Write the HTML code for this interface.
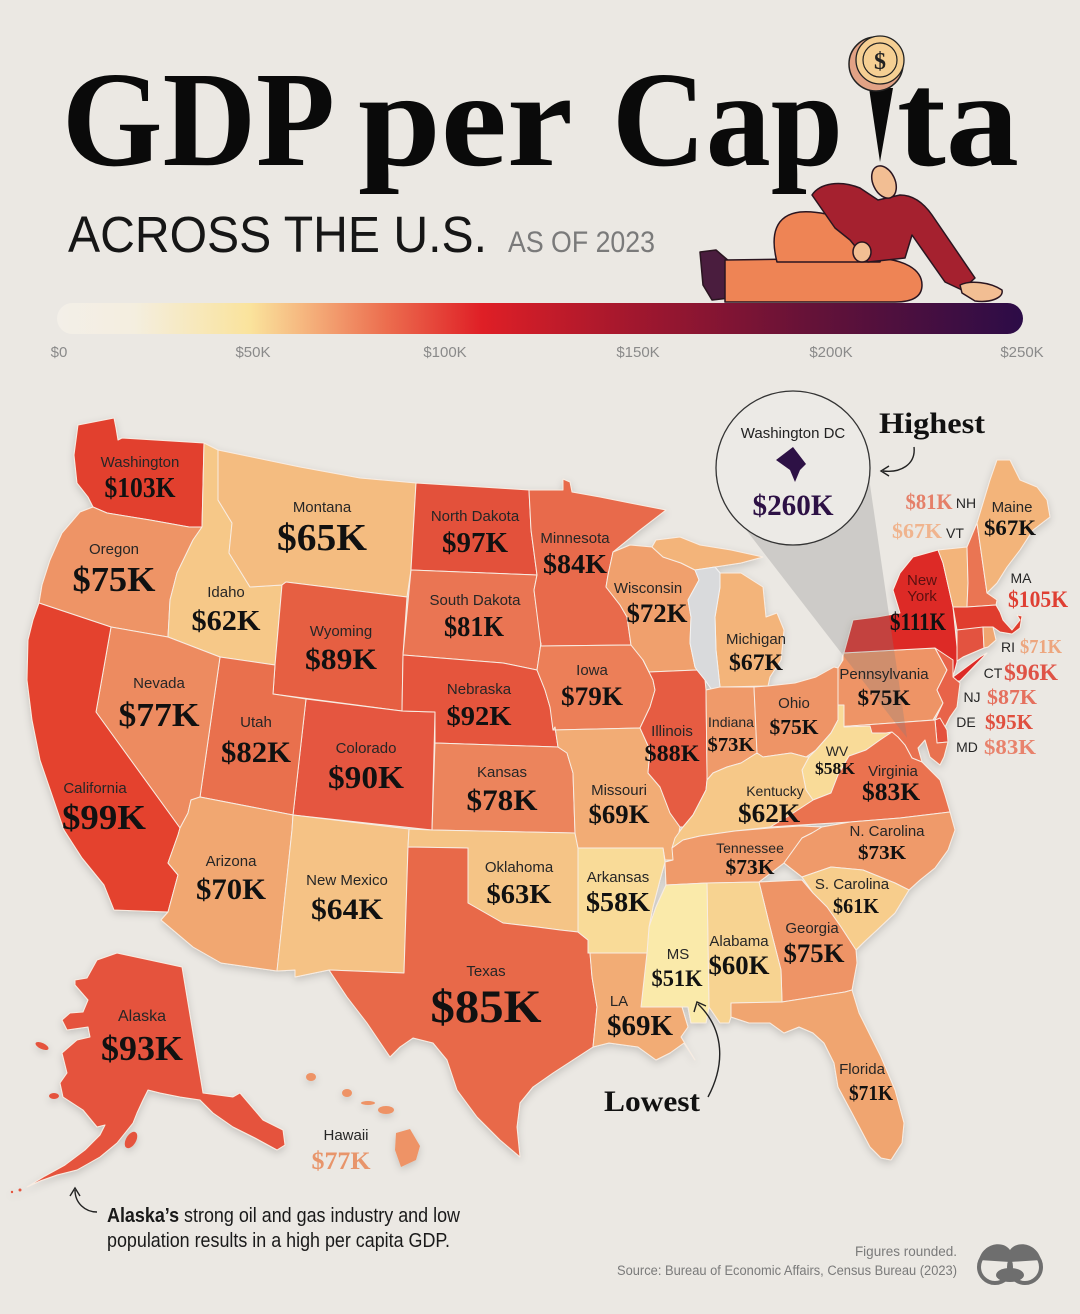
<!DOCTYPE html>
<html><head><meta charset="utf-8">
<style>html,body{margin:0;padding:0;background:#EBE8E3;}svg{display:block}</style>
</head><body>
<svg width="1080" height="1314" viewBox="0 0 1080 1314" xmlns="http://www.w3.org/2000/svg">
<defs>
<linearGradient id="gbar" x1="57" y1="0" x2="1023" y2="0" gradientUnits="userSpaceOnUse">
<stop offset="0" stop-color="#F3EFE8"/>
<stop offset="0.08" stop-color="#F4EEDF"/>
<stop offset="0.2" stop-color="#FAE39C"/>
<stop offset="0.26" stop-color="#F5B27C"/>
<stop offset="0.34" stop-color="#EC6E4F"/>
<stop offset="0.44" stop-color="#DF1F26"/>
<stop offset="0.6" stop-color="#A0172E"/>
<stop offset="0.78" stop-color="#651238"/>
<stop offset="1" stop-color="#2C0C47"/>
</linearGradient>
<filter id="sh" x="-5%" y="-5%" width="110%" height="110%">
<feDropShadow dx="0" dy="3" stdDeviation="4" flood-color="#000" flood-opacity="0.16"/>
</filter>
</defs>
<rect width="1080" height="1314" fill="#EBE8E3"/>

<!-- Title -->
<g font-family="'Liberation Serif', serif" font-weight="bold" font-size="136" fill="#0a0a0a">
<text x="62" y="165" textLength="273" lengthAdjust="spacingAndGlyphs">GDP</text>
<text x="358" y="165" textLength="215" lengthAdjust="spacingAndGlyphs">per</text>
<text x="612" y="165" textLength="231" lengthAdjust="spacingAndGlyphs">Cap</text>
<text x="897" y="165" textLength="122" lengthAdjust="spacingAndGlyphs">ta</text>
</g>
<polygon points="869,88 893,88 880,162" fill="#0a0a0a"/>
<!-- coin -->
<circle cx="876" cy="64" r="27" fill="#E2A285" stroke="#222" stroke-width="1.5"/>
<circle cx="880" cy="60" r="24" fill="#F5CF93" stroke="#222" stroke-width="1.3"/>
<circle cx="880" cy="60" r="17" fill="none" stroke="#222" stroke-width="1.2"/>
<text x="880" y="69" text-anchor="middle" font-family="'Liberation Serif', serif" font-weight="bold" font-size="24" fill="#222">$</text>

<text x="68" y="252" font-family="'Liberation Sans', Arial, sans-serif" font-size="51" textLength="419" lengthAdjust="spacingAndGlyphs" fill="#161616">ACROSS THE U.S.</text>
<text x="508" y="252" font-family="'Liberation Sans', Arial, sans-serif" font-size="30" textLength="147" lengthAdjust="spacingAndGlyphs" fill="#7a7a7a">AS OF 2023</text>

<!-- gradient bar -->
<rect x="57" y="303" width="966" height="31" rx="15.5" fill="url(#gbar)"/>

<!-- person -->
<g stroke="#2a1520" stroke-width="1.5" stroke-linejoin="round">
<path d="M700,252 L716,250 L730,262 L730,298 L712,300 L703,285 Z" fill="#4A1D3E"/>
<path d="M725,260 L870,258 C905,258 922,270 922,285 C922,298 910,302 895,302 L725,302 Z" fill="#EE8455"/>
<path d="M777,262 C770,235 775,215 800,212 C830,210 865,225 885,250 L880,262 Z" fill="#EE8455"/>
<path d="M812,195 C820,183 840,180 860,188 L878,200 L900,195 C915,195 925,205 932,215 L975,278 L962,290 L945,282 L912,235 L905,258 L868,262 L850,240 L835,228 Z" fill="#A5212F"/>
<ellipse cx="862" cy="252" rx="9" ry="10" fill="#F2BE93"/>
<ellipse cx="884" cy="182" rx="11" ry="17" transform="rotate(-25 884 182)" fill="#F2BE93"/>
<path d="M960,285 C970,280 990,282 1002,290 C1004,298 990,303 975,301 L962,293 Z" fill="#F2BE93"/>
</g>

<!-- tick labels -->
<g font-family="'Liberation Sans', Arial, sans-serif" font-size="15" fill="#8a8a8a" text-anchor="middle">
<text x="59" y="357">$0</text>
<text x="253" y="357">$50K</text>
<text x="445" y="357">$100K</text>
<text x="638" y="357">$150K</text>
<text x="831" y="357">$200K</text>
<text x="1022" y="357">$250K</text>
</g>

<!-- MAP -->
<g filter="url(#sh)" stroke="#F8ECE2" stroke-width="1" stroke-linejoin="round">
<polygon fill="#E2412F" points="78,425 114,418 116,428 118,440 122,438 204,443 202,527 189,527 150,520 107,513 93,507 88,497 77,483 74,455"/>
<polygon fill="#EE9466" points="93,507 107,513 150,520 189,527 202,527 193,540 177,573 170,600 168,637 111,627 39,603 42,585 50,560 62,533 80,512"/>
<polygon fill="#F6C888" points="204,443 218,450 218,500 232,523 229,553 250,587 282,585 275,665 220,657 168,637 170,600 177,573 193,540 202,527"/>
<polygon fill="#F4BC80" points="218,450 300,467 360,478 416,483 411,570 407,597 286,582 282,585 250,587 229,553 232,523 218,500"/>
<polygon fill="#E65E43" points="286,582 407,597 403,655 402,711 273,694 275,665 282,585"/>
<polygon fill="#E5573F" points="306,699 402,711 435,712 432,830 293,815"/>
<polygon fill="#E96F4E" points="220,657 275,665 273,694 306,699 293,815 200,797"/>
<polygon fill="#ED8B60" points="111,627 168,637 220,657 200,797 191,800 188,813 180,828 96,712"/>
<polygon fill="#E4432F" points="39,603 111,627 96,712 180,828 178,835 168,863 178,875 168,912 114,910 104,885 82,858 64,830 52,795 40,760 32,720 27,680 28,640 33,620"/>
<polygon fill="#F1A771" points="200,797 293,815 292,830 277,971 221,963 193,947 161,920 168,912 178,875 168,863 178,835 180,828 188,813 191,800"/>
<polygon fill="#F5C285" points="293,815 409,829 408,847 404,973 329,970 295,977 295,970 277,971 292,830"/>
<polygon fill="#E3513B" points="416,483 529,490 531,530 537,575 411,570"/>
<polygon fill="#EA7553" points="411,570 537,575 534,590 541,643 537,670 513,665 503,663 403,655"/>
<polygon fill="#E5553E" points="403,655 503,663 513,665 537,670 545,690 550,707 555,727 558,747 435,743 435,712 402,711"/>
<polygon fill="#EC845C" points="435,743 558,747 567,753 570,763 573,773 575,833 432,830"/>
<polygon fill="#F5C486" points="409,829 432,830 575,833 578,848 578,932 560,930 537,927 503,923 468,903 468,848 408,847"/>
<polygon fill="#E8694A" points="408,847 468,848 468,903 503,923 537,927 560,930 578,932 588,940 590,953 592,977 597,1007 593,1047 573,1060 553,1073 533,1087 520,1103 517,1127 520,1157 500,1140 477,1117 457,1090 447,1060 433,1043 413,1038 400,1047 390,1057 367,1023 347,997 329,970 404,973"/>
<polygon fill="#E86B4C" points="529,490 563,490 563,479 570,482 572,492 600,497 630,503 666,510 640,530 613,552 608,575 606,587 620,605 627,617 631,645 541,646 534,590 537,575 531,530"/>
<polygon fill="#EC7F59" points="541,646 631,645 643,660 653,680 655,690 650,707 640,728 553,730 550,707 545,690 537,670 541,643"/>
<polygon fill="#F2AC74" points="553,730 640,728 650,750 648,773 660,787 670,813 680,827 677,843 673,860 665,860 663,848 578,848 575,833 573,773 570,763 567,753 558,747 555,727"/>
<polygon fill="#F0A06D" points="613,552 630,545 652,547 663,557 681,563 695,570 699,580 688,600 691,617 690,643 695,667 697,670 649,672 643,660 631,645 627,617 620,605 606,587 608,575"/>
<polygon fill="#E65B42" points="649,672 697,670 705,680 706,690 707,773 707,780 706,790 693,815 683,827 680,827 670,813 660,787 648,773 650,750 640,728 650,707 655,690 653,680 643,660"/>
<polygon fill="#F3B47A" points="656,540 680,537 700,545 731,550 763,557 741,563 715,567 695,570 681,563 663,557 652,547"/>
<polygon fill="#F3B47A" points="720,573 741,573 752,580 763,587 766,617 777,613 784,630 781,660 770,677 768,686 720,687 716,650 715,617 720,587"/>
<polygon fill="#D9DADC" stroke="#F2F2F2" points="695,570 715,567 720,573 720,587 715,617 716,650 720,687 712,690 705,680 697,670 695,667 690,643 691,617 688,600 699,580"/>
<polygon fill="#EF9A6A" points="706,690 720,687 754,687 757,753 741,763 727,767 713,773 707,780 707,773"/>
<polygon fill="#EE9466" points="754,687 768,686 795,683 816,677 834,667 838,668 838,720 831,733 816,750 806,757 791,753 763,757 757,753"/>
<polygon fill="#EE9466" points="838,668 843,660 843,653 935,648 947,670 937,690 943,703 933,720 836,727 838,720"/>
<polygon fill="#DD2A25" points="842,660 853,620 877,617 900,613 893,590 900,573 913,557 938,550 943,563 953,607 957,647 957,662 953,677 980,657 987,653 960,681 953,681 935,648 843,653"/>
<polygon fill="#F3B47A" points="938,550 967,547 968,583 967,607 953,607 943,563"/>
<polygon fill="#EA7553" points="967,547 977,523 987,593 997,600 996,605 967,607 968,583"/>
<polygon fill="#F3B47A" points="977,523 990,480 997,460 1010,460 1020,480 1037,487 1047,500 1050,517 1033,530 1020,550 1007,567 997,583 987,593"/>
<polygon fill="#E03C2E" points="953,607 967,607 996,605 1000,612 1003,620 1012,630 1020,620 1017,615 1022,616 1020,628 1012,634 1000,632 993,627 957,630"/>
<polygon fill="#E35340" points="957,630 983,627 984,648 963,657 957,661"/>
<polygon fill="#F0A56F" points="983,627 993,627 996,640 988,647 984,648"/>
<polygon fill="#E86349" points="935,648 953,660 953,677 960,683 957,707 950,717 945,727 935,720 943,703 937,690 947,670"/>
<polygon fill="#E4513C" points="935,720 940,718 947,730 948,742 937,743"/>
<polygon fill="#E9714F" points="836,727 935,720 937,743 948,742 944,757 940,765 930,757 925,740 918,748 922,762 912,758 905,745 895,737 886,733 872,733 862,738 850,734 838,735"/>
<polygon fill="#F9DB98" points="838,705 844,705 844,727 870,726 872,733 886,733 892,732 880,740 866,750 849,756 838,775 831,793 813,800 806,790 802,770 809,757 816,750 831,733 838,720"/>
<polygon fill="#EA7250" points="892,732 898,737 905,745 912,758 922,762 930,770 940,780 945,795 950,812 900,818 850,822 800,825 770,827 790,815 813,800 831,793 838,775 849,756 866,750 880,740"/>
<polygon fill="#F6C888" points="683,827 693,815 706,790 707,780 713,773 727,767 741,763 757,753 763,757 791,753 806,757 809,757 802,770 806,790 813,800 790,815 770,827 735,831 700,836 683,840 672,848 675,838"/>
<polygon fill="#EF9A6A" points="672,848 683,840 700,836 735,831 770,828 800,826 822,827 812,833 802,838 784,863 759,882 707,883 666,885 665,862 673,860"/>
<polygon fill="#EF9A6A" points="822,827 850,822 900,818 950,812 955,830 948,850 935,868 920,880 909,890 895,883 863,870 831,867 802,877 784,863 802,838 812,833"/>
<polygon fill="#F7CD8C" points="802,877 831,867 863,870 895,883 909,890 895,913 877,930 863,943 856,950 841,927 827,907 813,893"/>
<polygon fill="#EE9466" points="759,882 802,880 813,893 827,907 841,927 856,950 857,963 852,990 845,992 782,1002 781,970 770,927"/>
<polygon fill="#F7D391" points="707,883 759,882 770,927 781,970 782,1002 731,1003 731,1017 729,1023 720,1023 709,1007"/>
<polygon fill="#F0A56F" points="731,1003 782,1002 845,992 852,990 859,1013 870,1035 881,1057 895,1090 904,1123 902,1143 891,1160 881,1158 870,1147 852,1113 838,1087 834,1063 824,1043 813,1033 799,1027 784,1033 770,1023 749,1023 731,1017"/>
<polygon fill="#FAEAAA" points="666,885 707,883 709,1007 706,1023 691,1023 688,1007 682,1007 641,1007 647,953 649,927 656,907"/>
<polygon fill="#F9DB98" points="578,848 663,848 665,862 660,880 653,907 649,927 647,953 588,953 588,940 578,932"/>
<polygon fill="#F2AC74" points="588,953 647,953 641,1007 682,1007 688,1027 681,1037 695,1060 684,1043 670,1053 656,1060 638,1047 609,1043 593,1047 597,1007 592,977 590,953"/>
<polygon fill="#E5533D" points="117,953 182,967 203,1093 233,1097 240,1093 263,1120 283,1130 285,1145 277,1150 255,1138 233,1127 213,1113 200,1100 180,1097 160,1093 148,1090 143,1100 137,1113 133,1123 117,1143 100,1157 77,1170 57,1175 40,1181 27,1187 45,1176 65,1165 85,1150 100,1135 105,1125 97,1127 83,1110 63,1097 60,1083 67,1073 62,1053 77,1040 90,1037 88,1027 67,1030 62,1020 70,1013 83,1012 88,1000 75,985 75,980 87,978 97,960"/>
<g fill="#E5533D" stroke="none">
<ellipse cx="42" cy="1046" rx="7" ry="3" transform="rotate(25 42 1046)"/>
<ellipse cx="54" cy="1096" rx="5" ry="3"/>
<ellipse cx="131" cy="1140" rx="5" ry="9" transform="rotate(30 131 1140)"/>
<circle cx="20" cy="1190" r="1.5"/><circle cx="12" cy="1192" r="1.2"/>
</g>
<g fill="#EE9366" stroke="none">
<ellipse cx="311" cy="1077" rx="5" ry="4"/>
<ellipse cx="347" cy="1093" rx="5" ry="4"/>
<ellipse cx="368" cy="1103" rx="7" ry="2"/>
<ellipse cx="386" cy="1110" rx="8" ry="4"/>
<polygon points="396,1133 410,1129 420,1146 416,1160 401,1167 395,1150"/>
</g>
</g>

<!-- DC wedge and circle -->
<polygon points="740,522 907,738 869,478" fill="#808080" opacity="0.28"/>
<circle cx="793" cy="468" r="77" fill="#ECEAE6" stroke="#333" stroke-width="1.3"/>
<text x="793" y="438" text-anchor="middle" font-family="'Liberation Sans', Arial, sans-serif" font-size="15" fill="#222">Washington DC</text>
<polygon points="793,447 806,464 800,470 795,482 790,470 776,460" fill="#2D1145"/>
<text x="752.5" y="515" textLength="81" lengthAdjust="spacingAndGlyphs" font-family="'Liberation Serif', serif" font-weight="bold" font-size="30" fill="#2D1145">$260K</text>

<!-- Highest / Lowest -->
<text x="879" y="433" textLength="106" lengthAdjust="spacingAndGlyphs" font-family="'Liberation Serif', serif" font-weight="bold" font-size="30" fill="#111">Highest</text>
<path d="M914,447 C916,465 900,473 883,471" fill="none" stroke="#222" stroke-width="1.4"/>
<path d="M889,466 L881,471 L889,476" fill="none" stroke="#222" stroke-width="1.4"/>
<text x="604" y="1111" textLength="96" lengthAdjust="spacingAndGlyphs" font-family="'Liberation Serif', serif" font-weight="bold" font-size="30" fill="#111">Lowest</text>
<path d="M708,1097 C725,1065 725,1030 698,1004" fill="none" stroke="#222" stroke-width="1.4"/>
<path d="M694,1012 L697,1002 L706,1006" fill="none" stroke="#222" stroke-width="1.4"/>
<path d="M97,1212 C85,1212 75,1203 75,1190" fill="none" stroke="#222" stroke-width="1.4"/>
<path d="M70,1196 L75,1188 L80,1196" fill="none" stroke="#222" stroke-width="1.4"/>

<!-- state names -->
<g font-family="'Liberation Sans', Arial, sans-serif" font-size="15" fill="#262626" text-anchor="middle">
<text x="140" y="467">Washington</text>
<text x="322" y="512">Montana</text>
<text x="475" y="521">North Dakota</text>
<text x="575" y="543">Minnesota</text>
<text x="114" y="554">Oregon</text>
<text x="226" y="597">Idaho</text>
<text x="475" y="605">South Dakota</text>
<text x="648" y="593">Wisconsin</text>
<text x="341" y="636">Wyoming</text>
<text x="479" y="694">Nebraska</text>
<text x="592" y="675">Iowa</text>
<text x="159" y="688">Nevada</text>
<text x="256" y="727">Utah</text>
<text x="366" y="753">Colorado</text>
<text x="672" y="736">Illinois</text>
<text x="731" y="727" font-size="14">Indiana</text>
<text x="794" y="708">Ohio</text>
<text x="756" y="644">Michigan</text>
<text x="884" y="679">Pennsylvania</text>
<text x="922" y="585" fill="#5c1010">New</text>
<text x="922" y="601" fill="#5c1010">York</text>
<text x="95" y="793">California</text>
<text x="502" y="777">Kansas</text>
<text x="619" y="795">Missouri</text>
<text x="775" y="796" font-size="14">Kentucky</text>
<text x="837" y="756" font-size="14">WV</text>
<text x="893" y="776">Virginia</text>
<text x="887" y="836">N. Carolina</text>
<text x="750" y="853" font-size="14">Tennessee</text>
<text x="231" y="866">Arizona</text>
<text x="347" y="885">New Mexico</text>
<text x="519" y="872">Oklahoma</text>
<text x="618" y="882">Arkansas</text>
<text x="852" y="889">S. Carolina</text>
<text x="812" y="933">Georgia</text>
<text x="739" y="946">Alabama</text>
<text x="678" y="959">MS</text>
<text x="486" y="976">Texas</text>
<text x="619" y="1006">LA</text>
<text x="142" y="1021" font-size="16">Alaska</text>
<text x="346" y="1140">Hawaii</text>
<text x="862" y="1074">Florida</text>
<text x="1012" y="512">Maine</text>
<text x="966" y="508" font-size="14">NH</text>
<text x="955" y="538" font-size="14">VT</text>
<text x="1021" y="583" font-size="14">MA</text>
<text x="1008" y="652" font-size="14">RI</text>
<text x="993" y="678" font-size="14">CT</text>
<text x="972" y="702" font-size="14">NJ</text>
<text x="966" y="727" font-size="14">DE</text>
<text x="967" y="752" font-size="14">MD</text>
</g>

<!-- values -->
<g font-family="'Liberation Serif', serif" font-weight="bold" fill="#111">
<text x="104.5" y="497" font-size="28" textLength="71" lengthAdjust="spacingAndGlyphs">$103K</text>
<text x="277" y="550" font-size="38" textLength="90" lengthAdjust="spacingAndGlyphs">$65K</text>
<text x="442" y="552" font-size="28" textLength="66" lengthAdjust="spacingAndGlyphs">$97K</text>
<text x="543" y="573" font-size="27" textLength="64" lengthAdjust="spacingAndGlyphs">$84K</text>
<text x="72.5" y="591" font-size="35" textLength="83" lengthAdjust="spacingAndGlyphs">$75K</text>
<text x="191.5" y="630" font-size="29" textLength="69" lengthAdjust="spacingAndGlyphs">$62K</text>
<text x="444" y="636" font-size="28" textLength="60" lengthAdjust="spacingAndGlyphs">$81K</text>
<text x="626.5" y="622" font-size="26" textLength="61" lengthAdjust="spacingAndGlyphs">$72K</text>
<text x="305" y="669" font-size="30" textLength="72" lengthAdjust="spacingAndGlyphs">$89K</text>
<text x="446.5" y="725" font-size="27" textLength="65" lengthAdjust="spacingAndGlyphs">$92K</text>
<text x="561" y="705" font-size="26" textLength="62" lengthAdjust="spacingAndGlyphs">$79K</text>
<text x="118.5" y="726" font-size="34" textLength="81" lengthAdjust="spacingAndGlyphs">$77K</text>
<text x="221" y="762" font-size="30" textLength="70" lengthAdjust="spacingAndGlyphs">$82K</text>
<text x="328" y="788" font-size="32" textLength="76" lengthAdjust="spacingAndGlyphs">$90K</text>
<text x="644.5" y="761" font-size="23" textLength="55" lengthAdjust="spacingAndGlyphs">$88K</text>
<text x="707.5" y="751" font-size="20" textLength="47" lengthAdjust="spacingAndGlyphs">$73K</text>
<text x="769.5" y="734" font-size="21" textLength="49" lengthAdjust="spacingAndGlyphs">$75K</text>
<text x="729" y="670" font-size="23" textLength="54" lengthAdjust="spacingAndGlyphs">$67K</text>
<text x="857.5" y="705" font-size="22" textLength="53" lengthAdjust="spacingAndGlyphs">$75K</text>
<text x="890" y="630" font-size="25" textLength="56" lengthAdjust="spacingAndGlyphs">$111K</text>
<text x="62" y="829" font-size="35" textLength="84" lengthAdjust="spacingAndGlyphs">$99K</text>
<text x="466.5" y="810" font-size="30" textLength="71" lengthAdjust="spacingAndGlyphs">$78K</text>
<text x="588.5" y="823" font-size="26" textLength="61" lengthAdjust="spacingAndGlyphs">$69K</text>
<text x="738" y="822" font-size="26" textLength="62" lengthAdjust="spacingAndGlyphs">$62K</text>
<text x="815" y="774" font-size="17" textLength="40" lengthAdjust="spacingAndGlyphs">$58K</text>
<text x="862" y="800" font-size="25" textLength="58" lengthAdjust="spacingAndGlyphs">$83K</text>
<text x="858" y="859" font-size="20" textLength="48" lengthAdjust="spacingAndGlyphs">$73K</text>
<text x="725.5" y="874" font-size="21" textLength="49" lengthAdjust="spacingAndGlyphs">$73K</text>
<text x="196" y="899" font-size="30" textLength="70" lengthAdjust="spacingAndGlyphs">$70K</text>
<text x="311" y="919" font-size="30" textLength="72" lengthAdjust="spacingAndGlyphs">$64K</text>
<text x="486.5" y="903" font-size="27" textLength="65" lengthAdjust="spacingAndGlyphs">$63K</text>
<text x="586" y="911" font-size="27" textLength="64" lengthAdjust="spacingAndGlyphs">$58K</text>
<text x="833" y="913" font-size="21" textLength="46" lengthAdjust="spacingAndGlyphs">$61K</text>
<text x="783.5" y="962" font-size="26" textLength="61" lengthAdjust="spacingAndGlyphs">$75K</text>
<text x="708.5" y="974" font-size="26" textLength="61" lengthAdjust="spacingAndGlyphs">$60K</text>
<text x="651.5" y="986" font-size="23" textLength="51" lengthAdjust="spacingAndGlyphs">$51K</text>
<text x="430.5" y="1022" font-size="47" textLength="111" lengthAdjust="spacingAndGlyphs">$85K</text>
<text x="607" y="1035" font-size="28" textLength="66" lengthAdjust="spacingAndGlyphs">$69K</text>
<text x="101" y="1060" font-size="35" textLength="82" lengthAdjust="spacingAndGlyphs">$93K</text>
<text x="311.5" y="1169" font-size="25" textLength="59" lengthAdjust="spacingAndGlyphs" fill="#E8956B">$77K</text>
<text x="849" y="1100" font-size="21" textLength="44" lengthAdjust="spacingAndGlyphs">$71K</text>
<text x="984" y="535" font-size="22" textLength="52" lengthAdjust="spacingAndGlyphs">$67K</text>
<text x="905.5" y="509" font-size="22" textLength="47" lengthAdjust="spacingAndGlyphs" fill="#E57F68">$81K</text>
<text x="892" y="538" font-size="21" textLength="50" lengthAdjust="spacingAndGlyphs" fill="#F0B48E">$67K</text>
<text x="1008" y="607" font-size="23" textLength="60" lengthAdjust="spacingAndGlyphs" fill="#DF3F33">$105K</text>
<text x="1020" y="653" font-size="20" textLength="42" lengthAdjust="spacingAndGlyphs" fill="#EDA67E">$71K</text>
<text x="1004" y="680" font-size="23" textLength="54" lengthAdjust="spacingAndGlyphs" fill="#DF5346">$96K</text>
<text x="987" y="704" font-size="21" textLength="50" lengthAdjust="spacingAndGlyphs" fill="#E5705E">$87K</text>
<text x="985" y="729" font-size="21" textLength="48" lengthAdjust="spacingAndGlyphs" fill="#E0503F">$95K</text>
<text x="984" y="754" font-size="21" textLength="52" lengthAdjust="spacingAndGlyphs" fill="#E8826C">$83K</text>
</g>

<!-- Alaska note -->
<text x="107" y="1222" font-family="'Liberation Sans', Arial, sans-serif" font-size="20" fill="#1a1a1a" textLength="353" lengthAdjust="spacingAndGlyphs"><tspan font-weight="bold">Alaska’s</tspan> strong oil and gas industry and low</text>
<text x="107" y="1247" font-family="'Liberation Sans', Arial, sans-serif" font-size="20" fill="#1a1a1a" textLength="343" lengthAdjust="spacingAndGlyphs">population results in a high per capita GDP.</text>

<!-- footer -->
<text x="957" y="1256" text-anchor="end" font-family="'Liberation Sans', Arial, sans-serif" font-size="13.5" fill="#7a7a7a">Figures rounded.</text>
<text x="617" y="1275" font-family="'Liberation Sans', Arial, sans-serif" font-size="13.5" fill="#7a7a7a" textLength="340" lengthAdjust="spacingAndGlyphs">Source: Bureau of Economic Affairs, Census Bureau (2023)</text>

<!-- logo -->
<g>
<circle cx="995" cy="1267" r="16" fill="none" stroke="#6E6E6E" stroke-width="4"/>
<circle cx="1025" cy="1267" r="16" fill="none" stroke="#6E6E6E" stroke-width="4"/>
<path d="M979,1260 C983,1243 1003,1240 1010,1250 C1017,1240 1037,1243 1041,1260 L1010,1262 Z" fill="#6E6E6E"/>
<ellipse cx="1010" cy="1275" rx="14" ry="7" fill="#6E6E6E"/>
</g>
</svg>
</body></html>
